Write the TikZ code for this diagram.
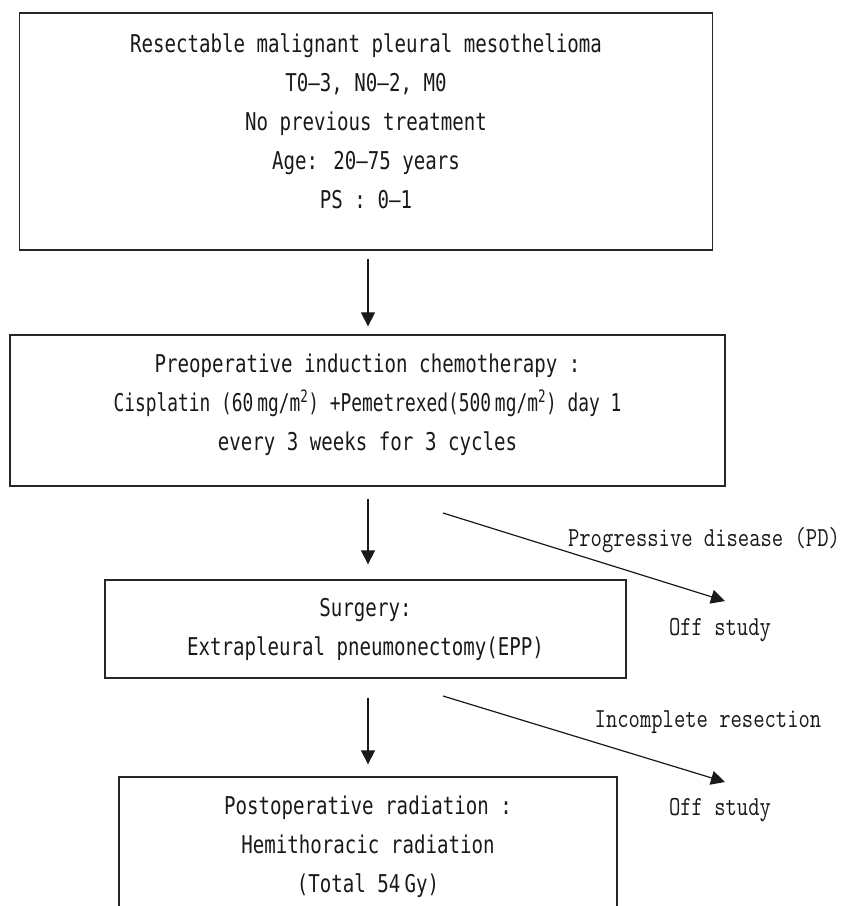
\documentclass[tikz,border=0pt]{standalone}
\usepackage{fontspec}
\usepackage{graphicx}
\usetikzlibrary{arrows.meta}
\newfontfamily\boxfont[FakeStretch=0.78]{DejaVu Sans Mono}
\newfontfamily\lblfont[FakeStretch=0.8]{Latin Modern Mono}
\begin{document}
\begin{tikzpicture}[x=1pt,y=-1pt,
  box/.style={draw=black!85, line width=1.3pt, inner sep=0pt},
  txt/.style={font={\boxfont\fontsize{24.5}{39}\selectfont}, align=center, inner sep=0pt, text=black!90},
  lbl/.style={font={\lblfont\fontsize{27.5}{30}\selectfont}, inner sep=0pt, text=black!90},
  arr/.style={line width=1.2pt, draw=black!90, -{Triangle[length=14pt,width=14pt]}}]
\useasboundingbox (0,0) rectangle (842,906);
\clip (0,0) rectangle (842,906);
\fill[white] (0,0) rectangle (842,906);
\coordinate (ax) at (368,0);

\node[box, minimum width=693pt, minimum height=237pt,
  label={[txt, yshift=10pt]center:{Resectable malignant pleural mesothelioma\\T0–3, N0–2, M0\\No previous treatment\\Age: 20–75 years\\PS : 0–1}}]
  (b1) at (366,131.5) {};

\node[box, minimum width=715pt, minimum height=151pt,
  label={[txt, yshift=5.5pt]center:{Preoperative induction chemotherapy :\\\scalebox{0.935}[1]{Cisplatin (60\,mg/m\textsuperscript{2}) +Pemetrexed(500\,mg/m\textsuperscript{2}) day 1}\\every 3 weeks for 3 cycles}}]
  (b2) at (367.5,410.5) {};

\node[box, minimum width=521pt, minimum height=98pt,
  label={[txt]center:{Surgery:\\Extrapleural pneumonectomy(EPP)}}]
  (b3) at (365.5,629) {};

\node[box, minimum width=498pt, minimum height=140pt,
  label={[txt]center:{Postoperative radiation :\\Hemithoracic radiation\\(Total 54\,Gy)}}]
  (b4) at (368,847) {};

\draw[arr, shorten <=8pt, shorten >=8pt] (b1.south -| ax) -- (b2.north -| ax);
\draw[arr, shorten <=12pt, shorten >=15pt] (b2.south -| ax) -- (b3.north -| ax);
\draw[arr, shorten <=19pt, shorten >=12pt] (b3.south -| ax) -- (b4.north -| ax);

\node[lbl] (pd) at (704,540) {Progressive disease (PD)};
\node[lbl] (o1) at (720,630) {Off study};
\node[lbl] (ir) at (708,722) {Incomplete resection};
\node[lbl] (o2) at (720,810) {Off study};

\coordinate (d1s) at (443,513);
\coordinate (d1e) at (725,601);
\coordinate (d2s) at (443,696);
\coordinate (d2e) at (725,782);
\draw[arr] (d1s) -- (d1e);
\draw[arr] (d2s) -- (d2e);
\end{tikzpicture}
\end{document}
